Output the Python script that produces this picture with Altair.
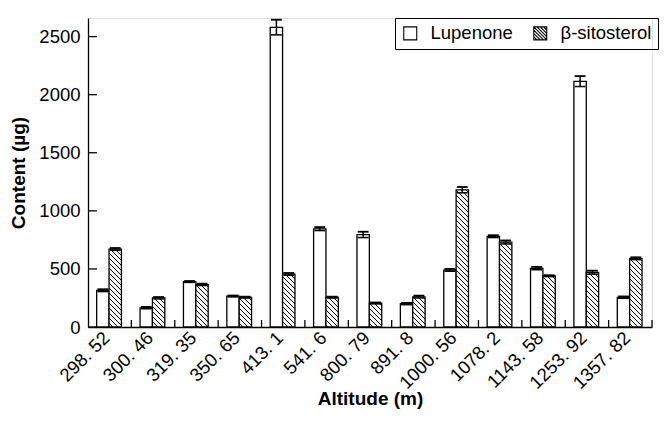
import json
import altair as alt
import pandas as pd

# ---- data ----
altitudes = ["298. 52", "300. 46", "319. 35", "350. 65", "413. 1", "541. 6", "800. 79",
             "891. 8", "1000. 56", "1078. 2", "1143. 58", "1253. 92", "1357. 82"]
lupenone = [315, 165, 390, 265, 2580, 845, 795, 200, 490, 780, 505, 2115, 255]
lupenone_err = [10, 8, 6, 6, 65, 15, 25, 8, 10, 10, 12, 45, 8]
sitosterol = [670, 250, 365, 255, 455, 255, 205, 260, 1180, 730, 440, 470, 590]
sitosterol_err = [10, 8, 8, 6, 10, 6, 6, 10, 25, 15, 6, 15, 10]
series = ["Lupenone", "β-sitosterol"]
y_ticks = [0, 500, 1000, 1500, 2000, 2500]

# ---- layout constants ----
W, H = 564, 309
N = len(altitudes)
YMAX = 2660
FONT = "Liberation Sans"
LFS = 18.5
TFS = 19
slots = {"Lupenone": (0.20, 0.485), "β-sitosterol": (0.485, 0.77)}

rows = []
for i in range(N):
    for s, vals, errs in (("Lupenone", lupenone, lupenone_err),
                          ("β-sitosterol", sitosterol, sitosterol_err)):
        a, b = slots[s]
        c = i + (a + b) / 2
        rows.append(dict(series=s, alt=altitudes[i], x0=i + a, x1=i + b, xc=c,
                         cl=c - 0.125, cr=c + 0.125, v=vals[i],
                         lo=vals[i] - errs[i], hi=vals[i] + errs[i]))
bars = pd.DataFrame(rows)

# hatch segments (45 deg, "\\\\") clipped to each beta-sitosterol bar
px_x = W / N
px_y = H / YMAX
step = 5.0
hrows = []
for r in rows:
    if r["series"] != "β-sitosterol":
        continue
    X0, X1, Vp = r["x0"] * px_x, r["x1"] * px_x, r["v"] * px_y
    n0 = int(X0 // step)
    n1 = int((X1 + Vp) // step) + 1
    for n in range(n0, n1 + 1):
        k = n * step
        xa = max(X0, k - Vp)
        xb = min(X1, k)
        if xb - xa > 0.3:
            hrows.append(dict(hx=xa / px_x, hy=(k - xa) / px_y,
                              hx2=xb / px_x, hy2=(k - xb) / px_y))
hatch = pd.DataFrame(hrows)

xt = pd.DataFrame({"t": list(range(1, N + 1))})
yt = pd.DataFrame({"t": y_ticks})

label_expr = json.dumps(altitudes, ensure_ascii=False) + "[floor(datum.value)]"

xscale = alt.Scale(domain=[0, N], nice=False, zero=False)
yscale = alt.Scale(domain=[0, YMAX], nice=False)

xaxis = alt.Axis(values=[i + 0.5 for i in range(N)], labelExpr=label_expr, ticks=False,
                 grid=False, labelAngle=-45, labelFontSize=LFS, labelFont=FONT,
                 labelColor="black", labelPadding=1, labelOffset=-10, labelOverlap=False,
                 labelBound=False, labelFlush=False,
                 title="Altitude (m)", titleFontSize=TFS, titleFont=FONT,
                 titleFontWeight="bold", titleColor="black", titlePadding=-3,
                 domainColor="black", domainWidth=1.3)
yaxis = alt.Axis(values=y_ticks, format="d", ticks=False, grid=False, labelFontSize=LFS,
                 labelFont=FONT, labelColor="black", labelPadding=8,
                 title="Content (µg)", titleFontSize=TFS, titleFont=FONT,
                 titleFontWeight="bold", titleColor="black", titlePadding=10,
                 domainColor="black", domainWidth=1.3)

base = alt.Chart(bars)

bar_layer = base.mark_rect(fill="white", stroke="black", strokeWidth=1.3).encode(
    x=alt.X("x0:Q", scale=xscale, axis=xaxis),
    x2="x1:Q",
    y=alt.Y("v:Q", scale=yscale, axis=yaxis),
    y2=alt.datum(0),
)

hatch_layer = alt.Chart(hatch).mark_rule(color="black", strokeWidth=1.0).encode(
    x="hx:Q", y="hy:Q", x2="hx2:Q", y2="hy2:Q"
)

err_v = base.mark_rule(color="black", strokeWidth=1.5).encode(
    x="xc:Q", y="lo:Q", y2="hi:Q")
cap_hi = base.mark_rule(color="black", strokeWidth=1.8).encode(
    x="cl:Q", x2="cr:Q", y="hi:Q")
cap_lo = base.mark_rule(color="black", strokeWidth=1.5).encode(
    x="cl:Q", x2="cr:Q", y="lo:Q")

xtick_layer = alt.Chart(xt).mark_rule(color="black", strokeWidth=1.3).encode(
    x="t:Q", y=alt.value(H), y2=alt.value(H - 7))
ytick_layer = alt.Chart(yt).mark_rule(color="black", strokeWidth=1.3).encode(
    y="t:Q", x=alt.value(0), x2=alt.value(9))

square_path = "M-1,-1H1V1H-1Z"
hatch_path = ("M-1,-1H1V1H-1Z M-1,-1L1,1 M-0.5,-1L1,0.5 M0,-1L1,0 M0.5,-1L1,-0.5 "
              "M-1,-0.5L0.5,1 M-1,0L0,1 M-1,0.5L-0.5,1")

legend_layer = base.mark_point(opacity=0, color="black", filled=False).encode(
    x="xc:Q", y="v:Q",
    shape=alt.Shape("series:N",
                    scale=alt.Scale(domain=series, range=[square_path, hatch_path]),
                    legend=alt.Legend(title=None, orient="none", legendX=307, legendY=0,
                                      direction="horizontal", strokeColor="black",
                                      padding=6, symbolSize=169, symbolOpacity=1,
                                      symbolStrokeColor="black", symbolFillColor="white",
                                      symbolStrokeWidth=1.1, labelFontSize=LFS,
                                      labelFont=FONT, labelColor="black",
                                      labelOffset=11, columnPadding=18)),
)

chart = alt.layer(bar_layer, hatch_layer, err_v, cap_hi, cap_lo, xtick_layer,
                  ytick_layer, legend_layer).properties(
    width=W, height=H,
    autosize=alt.AutoSizeParams(type="none"),
    padding={"left": 80, "top": 10, "right": 10, "bottom": 100},
).configure_view(stroke=None).configure(background="white")

chart.save("out.html", embed_options={"renderer": "svg", "actions": False})
